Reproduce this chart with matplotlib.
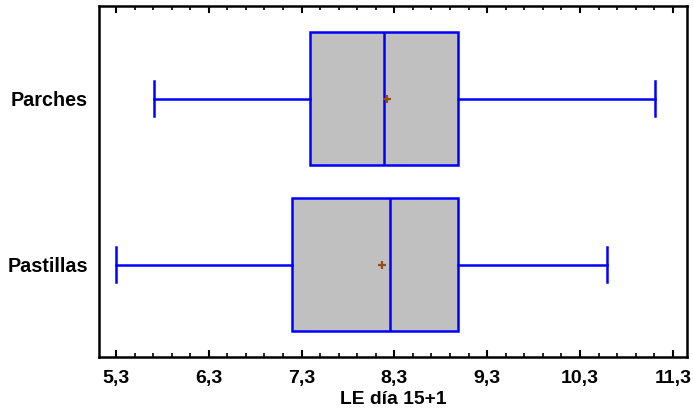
import matplotlib
matplotlib.use("Agg")
import matplotlib.pyplot as plt
from matplotlib.ticker import MultipleLocator, FuncFormatter

# box summaries
groups = ["Pastillas", "Parches"]
whisk_lo = [5.30, 5.71]
q1 = [7.20, 7.39]
medians = [8.25, 8.19]
q3 = [8.99, 8.99]
whisk_hi = [10.59, 11.11]
means = [8.17, 8.22]

plt.rcParams['font.family'] = ['Liberation Sans', 'DejaVu Sans']
plt.rcParams['font.weight'] = 'bold'

fig = plt.figure(figsize=(6.93, 4.12), dpi=100)
ax = fig.add_axes([0.1429, 0.1328, 0.8485, 0.8526])

stats = []
for i, g in enumerate(groups):
    stats.append({
        "label": g, "whislo": whisk_lo[i], "q1": q1[i], "med": medians[i],
        "q3": q3[i], "whishi": whisk_hi[i], "mean": means[i], "fliers": [],
    })

blue = "#0000FF"
ax.bxp(stats, positions=[1, 2], widths=0.80, vert=False, patch_artist=True,
       showmeans=True, showfliers=False,
       boxprops=dict(facecolor="#C0C0C0", edgecolor=blue, linewidth=1.8),
       medianprops=dict(color=blue, linewidth=1.8),
       whiskerprops=dict(color=blue, linewidth=1.8),
       capprops=dict(color=blue, linewidth=1.8),
       capwidths=0.21,
       meanprops=dict(marker="+", markeredgecolor="#9C4A14", markersize=6,
                      markeredgewidth=1.6))

ax.set_xlim(5.117, 11.454)
ax.set_ylim(0.443, 2.557)

ax.xaxis.set_major_locator(MultipleLocator(1.0, offset=0.3))
ax.xaxis.set_minor_locator(MultipleLocator(0.2, offset=0.1))
ax.xaxis.set_major_formatter(FuncFormatter(lambda v, p: f"{v:.1f}".replace(".", ",")))
ax.tick_params(axis="x", which="major", direction="in", length=5, width=1.5,
               top=True, labelsize=14, pad=9)
ax.tick_params(axis="x", which="minor", direction="in", length=3, width=1.2, top=True)
ax.tick_params(axis="y", length=0, labelsize=14.2, pad=8)
for lab in ax.get_xticklabels() + ax.get_yticklabels():
    lab.set_fontweight("bold")

for s in ax.spines.values():
    s.set_linewidth(1.8)

ax.set_xlabel("LE día 15+1", fontsize=13.9, fontweight="bold", labelpad=3)

fig.savefig("out.png", dpi=100)
